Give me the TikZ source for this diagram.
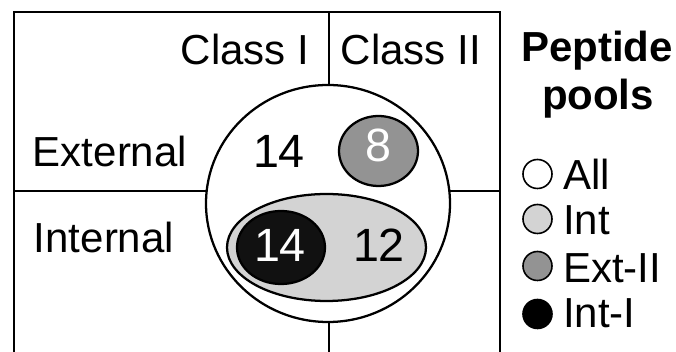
\documentclass[tikz,border=0pt]{standalone}
\usepackage{fontspec}
\setmainfont{Liberation Sans}
\usepackage{xcolor}
\definecolor{intBack}  {HTML}{D3D3D3}
\definecolor{extBack}  {HTML}{939393}
\definecolor{intIBack} {HTML}{111111}
\usetikzlibrary{shapes.geometric, positioning}
\tikzset{
    divider/.style={line width=1.5pt},
    pool/.style={ellipse, draw, line width=1.7pt, inner sep=0pt},
    tag/.style={font=\fontsize{31.5}{36}\selectfont, inner sep=0pt, anchor=base},
    numtext/.style={font=\fontsize{35}{40}\selectfont, inner sep=0pt, anchor=base},
    keydot/.style={circle, draw, line width=1.2pt, minimum size=21.75pt, inner sep=0pt},
    keytext/.style={tag, anchor=base west},
}

\begin{document}
\begin{tikzpicture}[x=0.75pt, y=-0.75pt]
    \useasboundingbox (0,0) rectangle (676,352);
    % frame and quadrants
    \draw[divider] (14,352) -- (14,12) -- (500,12) -- (500,352);
    \draw[divider] (329,12) -- (329,352);
    \draw[divider] (14,191) -- (500,191);
    \node[tag] (c1) at (245,65) {Class I};
    \node[tag] (c2) at (411,65) {Class II};
    \node[tag] (ext) at (110,167) {External};
    \node[tag] (int) at (104,253) {Internal};
    % pools
    \node[pool, fill=white, minimum width=183pt, minimum height=177.75pt] (all) at (328,203.5) {};
    \node[pool, fill=intBack, minimum width=149.25pt, minimum height=80.25pt] (intpool) at (326.5,247.5) {};
    \node[pool, fill=intIBack, minimum width=66pt, minimum height=54.75pt] (intI) at (281,247.5) {};
    \node[pool, fill=extBack, minimum width=59.25pt, minimum height=52.5pt] (extII) at (378.5,151) {};
    \node[numtext] (nall) at (279,168) {14};
    \node[numtext, white] (nintI) at (280,262) {14};
    \node[numtext] (nint) at (379,262) {12};
    \node[numtext, white] (nextII) at (378,162) {8};
    % legend
    \node[tag, font=\fontsize{31.5}{36}\selectfont\bfseries] (head1) at (597,62) {Peptide};
    \node[tag, font=\fontsize{31.5}{36}\selectfont\bfseries] (head2) at (598,110) {pools};
    \node[keydot, fill=white] (d1) at (537.5,174) {};
    \node[keydot, fill=intBack] (d2) at (537.5,219) {};
    \node[keydot, fill=extBack] (d3) at (537.5,266) {};
    \node[keydot, fill=black] (d4) at (537.5,314) {};
    \node[keytext] (k1) at (563,190) {All};
    \node[keytext] (k2) at (563,235) {Int};
    \node[keytext] (k3) at (563,283) {Ext-II};
    \node[keytext] (k4) at (563,328) {Int-I};
\end{tikzpicture}
\end{document}
